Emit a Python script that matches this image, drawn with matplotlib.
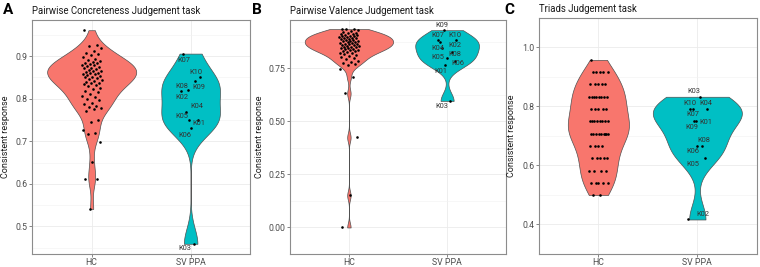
import numpy as np
import matplotlib
matplotlib.use("Agg")
import matplotlib.pyplot as plt

plt.rcParams['font.family'] = ['Roboto', 'DejaVu Sans']

# ---------------- data ----------------
categories = ["HC", "SV PPA"]
sv_ids = ["K01", "K02", "K03", "K04", "K05", "K06", "K07", "K08", "K09", "K10"]

# Panel A: Pairwise Concreteness Judgement task
hc_a = [0.961, 0.927, 0.925, 0.919, 0.911, 0.908, 0.906, 0.902, 0.898, 0.893,
        0.890, 0.888, 0.886, 0.884, 0.883, 0.881, 0.880, 0.879, 0.877, 0.875,
        0.873, 0.872, 0.870, 0.868, 0.866, 0.865, 0.863, 0.861, 0.860, 0.858,
        0.857, 0.855, 0.853, 0.852, 0.850, 0.848, 0.846, 0.844, 0.842, 0.840,
        0.838, 0.836, 0.834, 0.832, 0.829, 0.826, 0.822, 0.818, 0.815, 0.811,
        0.806, 0.803, 0.800, 0.796, 0.791, 0.787, 0.783, 0.780, 0.778, 0.775,
        0.772, 0.750, 0.746, 0.726, 0.720, 0.718, 0.698, 0.651, 0.612, 0.611,
        0.541]
sv_a = [0.750, 0.817, 0.459, 0.769, 0.750, 0.731, 0.906, 0.841, 0.820, 0.851]

# Panel B: Pairwise Valence Judgement task
hc_b = [0.934, 0.934, 0.933, 0.932, 0.925, 0.921, 0.918, 0.915, 0.912, 0.910,
        0.908, 0.906, 0.904, 0.902, 0.900, 0.898, 0.896, 0.894, 0.892, 0.890,
        0.888, 0.886, 0.884, 0.882, 0.880, 0.878, 0.876, 0.874, 0.872, 0.870,
        0.868, 0.866, 0.864, 0.862, 0.860, 0.858, 0.856, 0.854, 0.852, 0.850,
        0.848, 0.846, 0.844, 0.842, 0.840, 0.838, 0.835, 0.832, 0.829, 0.826,
        0.823, 0.820, 0.816, 0.812, 0.808, 0.803, 0.798, 0.792, 0.786, 0.780,
        0.775, 0.770, 0.765, 0.746, 0.707, 0.631, 0.424, 0.151, 0.000]
sv_b = [0.765, 0.885, 0.596, 0.844, 0.786, 0.798, 0.872, 0.825, 0.929, 0.882]

# Panel C: Triads Judgement task (proportions out of 24)
hc_c_levels = [0.958, 0.917, 0.875, 0.833, 0.792, 0.750, 0.708, 0.667, 0.625, 0.583, 0.542, 0.500]
hc_c_counts = [1, 5, 5, 8, 5, 8, 9, 4, 5, 4, 5, 2]
hc_c = [v for v, c in zip(hc_c_levels, hc_c_counts) for _ in range(c)]
sv_c = [0.750, 0.417, 0.833, 0.792, 0.625, 0.667, 0.792, 0.667, 0.750, 0.792]

titles = ["Pairwise Concreteness Judgement task",
          "Pairwise Valence Judgement task",
          "Triads Judgement task"]
letters = ["A", "B", "C"]
ylims = [(0.435, 0.985), (-0.0467, 0.977), (0.388, 1.029)]
yticks = [[0.5, 0.6, 0.7, 0.8, 0.9],
          [0.0, 0.25, 0.5, 0.75],
          [0.4, 0.6, 0.8, 1.0]]
ytick_labels = [["0.5", "0.6", "0.7", "0.8", "0.9"],
                ["0.00", "0.25", "0.50", "0.75"],
                ["0.4", "0.6", "0.8", "1.0"]]

# label placement (pixel offsets from category centre / value)
label_offsets = [
    {"K01": (8, -4), "K02": (-9, -6), "K03": (-6, -5), "K04": (6, 5), "K05": (-9, 3),
     "K06": (-6, -7), "K07": (-7, -7), "K08": (-9, -5), "K09": (8, 3), "K10": (5, 5)},
    {"K01": (-6, -6), "K02": (8, -6), "K03": (-5, -6), "K04": (-9, 0), "K05": (-9, 3),
     "K06": (11, -5), "K07": (-9, 7), "K08": (8, -2), "K09": (-5, 5), "K10": (8, 5)},
    {"K01": (9, -1), "K02": (6, 5), "K03": (-4, 5), "K04": (9, 5), "K05": (-4, -6),
     "K06": (-4, -6), "K07": (-4, -6), "K08": (6, 5), "K09": (-6, -6), "K10": (-7, 5)},
]

colors = ["#F8766D", "#00BFC4"]
panels = [(hc_a, sv_a), (hc_b, sv_b), (hc_c, sv_c)]


def kde_nrd0(vals, grid):
    v = np.asarray(vals, float)
    n = len(v)
    sd = v.std(ddof=1)
    q75, q25 = np.percentile(v, [75, 25])
    lo = min(sd, (q75 - q25) / 1.34)
    if lo <= 0:
        lo = sd if sd > 0 else 1.0
    bw = 0.9 * lo * n ** -0.2
    z = (grid[:, None] - v[None, :]) / bw
    return np.exp(-0.5 * z ** 2).sum(axis=1) / (n * bw * np.sqrt(2 * np.pi))


def jitter(n, width=0.1, seed_shift=0.0):
    i = np.arange(n)
    return (((i * 0.6180339887 + seed_shift) % 1.0) * 2 - 1) * width


W, H = 760, 267
fig = plt.figure(figsize=(W / 100, H / 100), dpi=100)
fig.patch.set_facecolor("white")

ax_rects = [
    (32.3, 20, 250, 254),
    (290, 20, 506, 254),
    (539, 18, 756.7, 254),
]
ylabel_x = [10, 264, 516]
letter_x = [3, 252, 504]

for k, (hc, sv) in enumerate(panels):
    x0, y0, x1, y1 = ax_rects[k]
    ax = fig.add_axes([x0 / W, 1 - y1 / H, (x1 - x0) / W, (y1 - y0) / H])
    ax.set_xlim(0.4, 2.6)
    ax.set_ylim(*ylims[k])

    groups = [hc, sv]
    grids, dens = [], []
    for g in groups:
        gr = np.linspace(min(g), max(g), 512)
        grids.append(gr)
        dens.append(kde_nrd0(g, gr))
    dmax = max(d.max() for d in dens)
    for j, (gr, d) in enumerate(zip(grids, dens)):
        half = 0.45 * d / dmax
        ax.fill_betweenx(gr, (j + 1) - half, (j + 1) + half,
                         facecolor=colors[j], edgecolor="#505050",
                         linewidth=0.5, zorder=2)

    # points
    ax.scatter(1 + jitter(len(hc), 0.1, 0.13), hc, s=3.5, color="black",
               zorder=3, linewidths=0)
    ax.scatter(2 + jitter(len(sv), 0.1, 0.41), sv, s=3.5, color="black",
               zorder=3, linewidths=0)

    # labels for SV PPA
    for lab, val in zip(sv_ids, sv):
        dx, dy = label_offsets[k][lab]
        ax.annotate(lab, xy=(2, val), xytext=(dx, dy), textcoords="offset pixels",
                    ha="center", va="center", fontsize=5.4, color="#333333",
                    zorder=4)

    # grid
    yt = yticks[k]
    step = yt[1] - yt[0]
    minors = [t + step / 2 for t in [yt[0] - step] + yt]
    ax.set_yticks(yt)
    ax.set_yticklabels(ytick_labels[k])
    ax.set_yticks(minors, minor=True)
    ax.set_xticks([1, 2])
    ax.set_xticklabels(categories)
    ax.grid(which="major", color="#EBEBEB", linewidth=0.6, zorder=0)
    ax.grid(which="minor", axis="y", color="#F2F2F2", linewidth=0.4, zorder=0)
    ax.set_axisbelow(True)
    ax.tick_params(which="minor", length=0)
    ax.tick_params(which="major", length=2.0, width=0.5, color="#555555",
                   labelsize=6.3, labelcolor="#4D4D4D", pad=1.5)
    ax.tick_params(axis="x", pad=1.0)
    for s in ax.spines.values():
        s.set_color("#8C8C8C")
        s.set_linewidth(0.8)

    ax.set_ylabel("Consistent response", fontsize=6.5, color="#1A1A1A")
    ax.yaxis.set_label_coords((ylabel_x[k] - x0) / (x1 - x0), 0.5)
    ax.set_title(titles[k], loc="left", fontsize=6.9, color="#1A1A1A", pad=4.5)

    fig.text(letter_x[k] / W, 1 - 14 / H, letters[k], fontsize=11,
             fontweight="bold", ha="left", va="baseline")

fig.savefig("out.png", dpi=100, facecolor="white")
